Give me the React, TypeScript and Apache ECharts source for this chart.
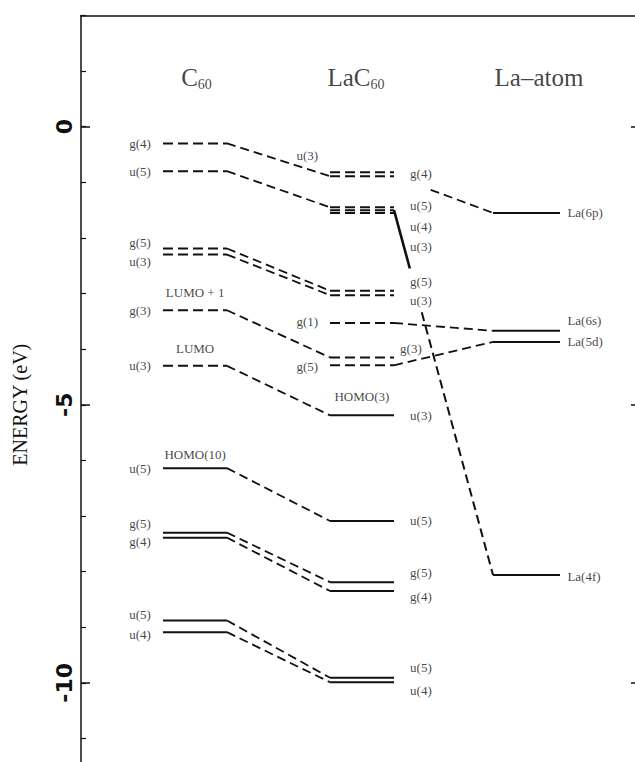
import React, { useEffect, useRef } from 'react';
import * as echarts from 'echarts';

// ---------- data ----------
const titles = ['{t|C}{s|60}', '{t|La}{t|C}{s|60}', '{t|La–atom}'];

const c60Names = ['g(4)', 'u(5)', 'g(5)', 'u(3)', 'g(3)', 'u(3)', 'u(5)', 'g(5)', 'g(4)', 'u(5)', 'u(4)'];
const c60Energy = [-0.30, -0.80, -2.19, -2.30, -3.30, -4.30, -6.14, -7.30, -7.39, -8.88, -9.09];
const c60Solid = [false, false, false, false, false, false, true, true, true, true, true];
const c60LabelE = [-0.30, -0.80, -2.08, -2.42, -3.30, -4.30, -6.14, -7.13, -7.46, -8.78, -9.14];

const lac60Names = ['u(3)', 'g(4)', 'u(5)', 'u(4)', 'u(3)', 'g(5)', 'u(3)', 'g(1)', 'g(3)', 'g(5)', 'u(3)', 'u(5)', 'g(5)', 'g(4)', 'u(5)', 'u(4)'];
const lac60Energy = [-0.82, -0.89, -1.45, -1.50, -1.55, -2.95, -3.03, -3.53, -4.15, -4.29, -5.19, -7.09, -8.19, -8.35, -9.91, -9.99];
const lac60Solid = [false, false, false, false, false, false, false, false, false, false, true, true, true, true, true, true];
const lac60LabelE = [-0.51, -0.85, -1.42, -1.79, -2.15, -2.79, -3.13, -3.51, -3.98, -4.32, -5.19, -7.09, -8.01, -8.44, -9.72, -10.13];
const lac60LabelSide = ['left', 'right', 'right', 'right', 'right', 'right', 'right', 'left', 'mid', 'left', 'right', 'right', 'right', 'right', 'right', 'right'];

const laNames = ['La(6p)', 'La(6s)', 'La(5d)', 'La(4f)'];
const laEnergy = [-1.55, -3.67, -3.87, -8.06];
const laLabelE = [-1.55, -3.48, -3.87, -8.09];

// C60 level index -> LaC60 level index
const c60ToLac60 = [1, 2, 5, 6, 8, 10, 11, 12, 13, 14, 15];
// LaC60 level index -> La level index
const lac60ToLa = [1, 3, 7, 9];
const lac60ToLaTargets = [0, 3, 1, 2];

const tagNames = ['LUMO + 1', 'LUMO', 'HOMO(10)', 'HOMO(3)'];
const tagEnergy = [-2.99, -3.98, -5.90, -4.86];

// ---------- layout ----------
const COL = { c60: [14.8, 26.35], lac60: [44.95, 56.5], la: [74.37, 86.46] };
const LBL = { c60Left: 12.6, c60Mid: 20.6, lacLeft: 42.8, lacRight: 59.4, lacMid: 57.6, lacCenter: 50.7, laRight: 87.8 };
const TITLE_X = [20.85, 49.64, 82.67];
const TITLE_E = 0.88;
const INK = '#111';
const SERIF = 'Liberation Serif';
const LEVEL_DASH = [10, 5];
const LINK_DASH = [9, 5];

function lerpPts(a: number[], b: number[], t0: number, t1: number) {
  return [
    [a[0] + (b[0] - a[0]) * t0, a[1] + (b[1] - a[1]) * t0],
    [a[0] + (b[0] - a[0]) * t1, a[1] + (b[1] - a[1]) * t1],
  ];
}

function lineSeries(data: number[][], solid: boolean, width = 2, dash = LEVEL_DASH) {
  return {
    type: 'line',
    data,
    symbol: 'none',
    silent: true,
    animation: false,
    lineStyle: { color: INK, width, type: solid ? 'solid' : dash, cap: 'butt' },
  };
}

function buildSeries() {
  const s: any[] = [];
  // levels
  c60Energy.forEach((e, i) => s.push(lineSeries([[COL.c60[0], e], [COL.c60[1], e]], c60Solid[i])));
  lac60Energy.forEach((e, i) => s.push(lineSeries([[COL.lac60[0], e], [COL.lac60[1], e]], lac60Solid[i])));
  laEnergy.forEach((e) => s.push(lineSeries([[COL.la[0], e], [COL.la[1], e]], true)));
  // C60 -> LaC60 connectors
  c60ToLac60.forEach((j, i) => {
    s.push(lineSeries([[COL.c60[1], c60Energy[i]], [COL.lac60[0], lac60Energy[j]]], false, 1.8, LINK_DASH));
  });
  // LaC60 -> La connectors
  lac60ToLa.forEach((j, k) => {
    const a = [COL.lac60[1], lac60Energy[j]];
    const b = [COL.la[0], laEnergy[lac60ToLaTargets[k]]];
    if (k === 0) {
      s.push(lineSeries(lerpPts(a, b, 0.37, 1), false, 1.8, LINK_DASH));
    } else if (k === 1) {
      s.push(lineSeries(lerpPts(a, b, 0, 0.16), true, 2.6));
      s.push(lineSeries(lerpPts(a, b, 0.28, 1), false, 2, LINK_DASH));
    } else {
      s.push(lineSeries([a, b], false, 1.8, LINK_DASH));
    }
  });

  // labels
  const labels: any[] = [];
  const put = (name: string, x: number, e: number, position: string) =>
    labels.push({ name, value: [x, e], label: { position, distance: 0 } });
  c60Names.forEach((n, i) => put(n, LBL.c60Left, c60LabelE[i], 'left'));
  lac60Names.forEach((n, i) => {
    const side = lac60LabelSide[i];
    if (side === 'left') put(n, LBL.lacLeft, lac60LabelE[i], 'left');
    else if (side === 'mid') put(n, LBL.lacMid, lac60LabelE[i], 'right');
    else put(n, LBL.lacRight, lac60LabelE[i], 'right');
  });
  laNames.forEach((n, i) => put(n, LBL.laRight, laLabelE[i], 'right'));
  put(tagNames[0], LBL.c60Mid, tagEnergy[0], 'inside');
  put(tagNames[1], LBL.c60Mid, tagEnergy[1], 'inside');
  put(tagNames[2], LBL.c60Mid, tagEnergy[2], 'inside');
  put(tagNames[3], LBL.lacCenter, tagEnergy[3], 'inside');

  s.push({
    type: 'scatter',
    symbolSize: 0,
    silent: true,
    data: labels,
    label: { show: true, formatter: '{b}', fontFamily: SERIF, fontSize: 13, color: INK },
  });

  s.push({
    type: 'scatter',
    symbolSize: 0,
    silent: true,
    data: titles.map((t, i) => ({ name: t, value: [TITLE_X[i], TITLE_E] })),
    label: {
      show: true,
      position: 'inside',
      formatter: '{b}',
      color: INK,
      rich: {
        t: { fontFamily: SERIF, fontSize: 25, lineHeight: 28, color: INK },
        s: { fontFamily: SERIF, fontSize: 14, lineHeight: 12, verticalAlign: 'bottom', color: INK },
      },
    },
  });
  return s;
}

export default function App() {
  const ref = useRef<HTMLDivElement>(null);
  useEffect(() => {
    if (!ref.current) return;
    const chart = echarts.init(ref.current, undefined, { renderer: 'svg' });
    const axisBase = {
      type: 'value',
      min: -12,
      max: 2,
      splitLine: { show: false },
    };
    chart.setOption({
      animation: false,
      backgroundColor: '#fff',
      grid: { left: 81, right: 0, top: 15.5, bottom: -32, containLabel: false, outerBoundsMode: 'none' },
      xAxis: {
        type: 'value',
        min: 0,
        max: 100,
        position: 'top',
        axisLine: { show: true, onZero: false, lineStyle: { color: INK, width: 1.5 } },
        axisTick: { show: false },
        axisLabel: { show: false },
        splitLine: { show: false },
      },
      yAxis: [
        {
          ...axisBase,
          interval: 1,
          position: 'left',
          axisLine: { show: true, onZero: false, lineStyle: { color: INK, width: 1.5 } },
          axisTick: { show: true, inside: true, length: 5, lineStyle: { color: INK, width: 1.2 } },
          axisLabel: {
            show: true,
            rotate: 90,
            margin: 6,
            fontFamily: 'DejaVu Sans',
            fontWeight: 'bold',
            fontSize: 22,
            color: INK,
            formatter: (v: number) => (v === 0 || v === -5 || v === -10 ? String(v) : ''),
          },
          name: 'ENERGY (eV)',
          nameLocation: 'middle',
          nameGap: 51,
          nameRotate: 90,
          nameTextStyle: { fontFamily: SERIF, fontSize: 20, color: INK },
        },
        {
          ...axisBase,
          position: 'left',
          axisLine: { show: false, onZero: false },
          axisTick: { show: true, inside: true, length: 9, customValues: [0, -5, -10], lineStyle: { color: INK, width: 1.5 } },
          axisLabel: { show: false, customValues: [0, -5, -10] },
        },
        {
          ...axisBase,
          position: 'right',
          axisLine: { show: false, onZero: false },
          axisTick: { show: true, inside: true, length: 4, customValues: [0, -5, -10], lineStyle: { color: INK, width: 1.5 } },
          axisLabel: { show: false, customValues: [0, -5, -10] },
        },
      ],
      series: buildSeries(),
    });
    return () => chart.dispose();
  }, []);
  return <div ref={ref} style={{ position: 'fixed', left: 0, top: 0, width: 635, height: 762, background: '#fff' }} />;
}
